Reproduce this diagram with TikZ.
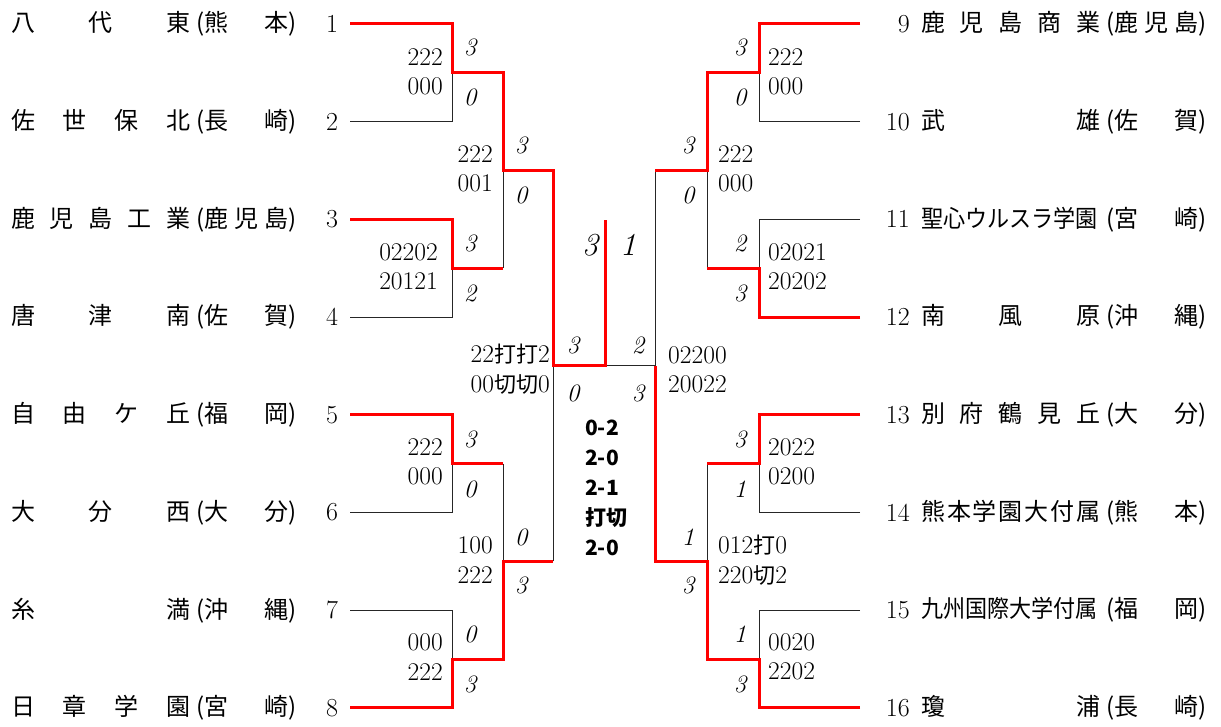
\documentclass[tikz,border=0pt]{standalone}
\usepackage{fontspec,graphicx}
\newfontfamily\jp{Noto Sans CJK JP}
\usetikzlibrary{positioning}
\newcommand\kou[2]{\makebox[179pt][s]{#1}\makebox[14pt][r]{(}\makebox[84pt][s]{#2})}
\newcommand\jg[1]{{\jp\fontsize{22}{29.5}\selectfont #1}}

\begin{document}
\begin{tikzpicture}[x=1pt,y=-1pt,
    win/.style={draw=red,line width=3pt},
    lose/.style={draw=black!85,line width=1pt},
    team/.style={inner sep=0pt,font=\jp\fontsize{24}{24}\selectfont},
    seed/.style={inner sep=0pt,font=\fontsize{26}{26}\selectfont},
    score/.style={inner sep=0pt,font=\fontsize{25}{25}\selectfont\itshape},
    bigscore/.style={inner sep=0pt,font=\fontsize{32}{32}\selectfont\itshape},
    games/.style={inner sep=0pt,font=\fontsize{25.5}{29.5}\selectfont},
    result/.style={inner sep=0pt,align=left,font=\jp\bfseries\fontsize{21}{30}\selectfont}]

\useasboundingbox (0,0) rectangle (1221,727);

% teams, left side
\foreach \i/\nm/\pf in {1/{八\hfill 代\hfill 東}/{熊\hfill 本},
    2/{佐\hfill 世\hfill 保\hfill 北}/{長\hfill 崎},
    3/{鹿\hfill 児\hfill 島\hfill 工\hfill 業}/{鹿\hfill 児\hfill 島},
    4/{唐\hfill 津\hfill 南}/{佐\hfill 賀},
    5/{自\hfill 由\hfill ケ\hfill 丘}/{福\hfill 岡},
    6/{大\hfill 分\hfill 西}/{大\hfill 分},
    7/{糸\hfill 満}/{沖\hfill 縄},
    8/{日\hfill 章\hfill 学\hfill 園}/{宮\hfill 崎}}
{
  \pgfmathsetmacro\Y{24+(\i-1)*97.7}
  \node[team,anchor=west] (lname\i) at (11,\Y) {\kou{\nm}{\pf}};
  \node[seed] (lseed\i) at (332,\Y) {\i};
  \coordinate (lt\i) at (350,\Y);
}

% teams, right side
\foreach \i/\nm/\pf in {9/{鹿\hfill 児\hfill 島\hfill 商\hfill 業}/{鹿\hfill 児\hfill 島},
    10/{武\hfill 雄}/{佐\hfill 賀},
    11/{\scalebox{0.92}[1]{聖心ウルスラ学園}\hfill}/{宮\hfill 崎},
    12/{南\hfill 風\hfill 原}/{沖\hfill 縄},
    13/{別\hfill 府\hfill 鶴\hfill 見\hfill 丘}/{大\hfill 分},
    14/{熊\hfill 本\hfill 学\hfill 園\hfill 大\hfill 付\hfill 属}/{熊\hfill 本},
    15/{\scalebox{0.92}[1]{九州国際大学付属}\hfill}/{福\hfill 岡},
    16/{瓊\hfill 浦}/{長\hfill 崎}}
{
  \pgfmathsetmacro\Y{24+(\i-9)*97.7}
  \node[team,anchor=west] (rname\i) at (921,\Y) {\kou{\nm}{\pf}};
  \node[seed,anchor=east] (rseed\i) at (910,\Y) {\i};
  \coordinate (rt\i) at (860,\Y);
}

% bracket joints
\foreach \k in {1,...,4} {
  \pgfmathsetmacro\M{72.85+(\k-1)*195.4}
  \coordinate (lm\k) at (452,\M);
  \coordinate (lq\k) at (503,\M);
  \coordinate (rm\k) at (759,\M);
  \coordinate (rq\k) at (707,\M);
}
\coordinate (ls1) at (553,170.55);
\coordinate (ls2) at (553,561.35);
\coordinate (rs1) at (655,170.55);
\coordinate (rs2) at (655,561.35);
\coordinate (lsf) at (553,365.95);
\coordinate (rsf) at (655,365.95);
\coordinate (fin) at (605,365.95);
\coordinate (champ) at (605,220);

% losers
\draw[lose] (lt2) -| (lm1);
\draw[lose] (lt4) -| (lm2);
\draw[lose] (lt6) -| (lm3);
\draw[lose] (lt7) -| (lm4);
\draw[lose] (rt10) -| (rm1);
\draw[lose] (rt11) -| (rm2);
\draw[lose] (rt14) -| (rm3);
\draw[lose] (rt15) -| (rm4);
\draw[lose] (lq2) |- (ls1);
\draw[lose] (lq3) |- (ls2);
\draw[lose] (rq2) |- (rs1);
\draw[lose] (rq3) |- (rs2);
\draw[lose] (ls2) -- (lsf);
\draw[lose] (rs1) -- (rsf) -- (fin);

% winners
\draw[win] (lt1) -| (lm1) -- (lq1) |- (ls1) -- (lsf) -- (fin) -- (champ);
\draw[win] (lt3) -| (lm2) -- (lq2);
\draw[win] (lt5) -| (lm3) -- (lq3);
\draw[win] (lt8) -| (lm4) -- (lq4) |- (ls2);
\draw[win] (rt9) -| (rm1) -- (rq1) |- (rs1);
\draw[win] (rt12) -| (rm2) -- (rq2);
\draw[win] (rt13) -| (rm3) -- (rq3);
\draw[win] (rt16) -| (rm4) -- (rq4) |- (rs2) -- (rsf);

% scores
\foreach \x/\y/\s [count=\k] in {470/47.85/3, 470/97.85/0, 470/243/3, 470/293/2,
    470/439/3, 470/489/0, 470/634/0, 470/684/3,
    521/145.5/3, 521/195.5/0, 521/537/0, 521/585/3,
    573/345/3, 573/393/0, 638/345/2, 638/393/3,
    688/145.5/3, 688/195.5/0, 688/537/1, 688/585/3,
    740/47.85/3, 740/97.85/0, 740/243/2, 740/293/3,
    740/439/3, 740/489/1, 740/634/1, 740/684/3}
  \node[score] (sc\k) at (\x,\y) {\s};
\node[bigscore] (finl) at (590,245) {3};
\node[bigscore] (finr) at (628,245) {1};

% innings, left
\node[games,anchor=east,align=right] (g1) at (443,72) {222\\000};
\node[games,anchor=east,align=right] (g2) at (438,267) {02202\\20121};
\node[games,anchor=east,align=right] (g3) at (443,462) {222\\000};
\node[games,anchor=east,align=right] (g4) at (443,657) {000\\222};
\node[games,anchor=east,align=right] (g5) at (493,169) {222\\001};
\node[games,anchor=east,align=right] (g6) at (493,560) {100\\222};
\node[games,anchor=east,align=right] (g7) at (550,369) {22\jg{打打}2\\00\jg{切切}0};
% innings, right
\node[games,anchor=west,align=left] (g8) at (768,72) {222\\000};
\node[games,anchor=west,align=left] (g9) at (768,267) {02021\\20202};
\node[games,anchor=west,align=left] (g10) at (768,462) {2022\\0200};
\node[games,anchor=west,align=left] (g11) at (768,657) {0020\\2202};
\node[games,anchor=west,align=left] (g12) at (718,169) {222\\000};
\node[games,anchor=west,align=left] (g13) at (718,560) {012\jg{打}0\\220\jg{切}2};
\node[games,anchor=west,align=left] (g14) at (668,370) {02200\\20022};

\node[result,anchor=west] (res) at (585,488) {0-2\\2-0\\2-1\\打切\\2-0};

\end{tikzpicture}
\end{document}
